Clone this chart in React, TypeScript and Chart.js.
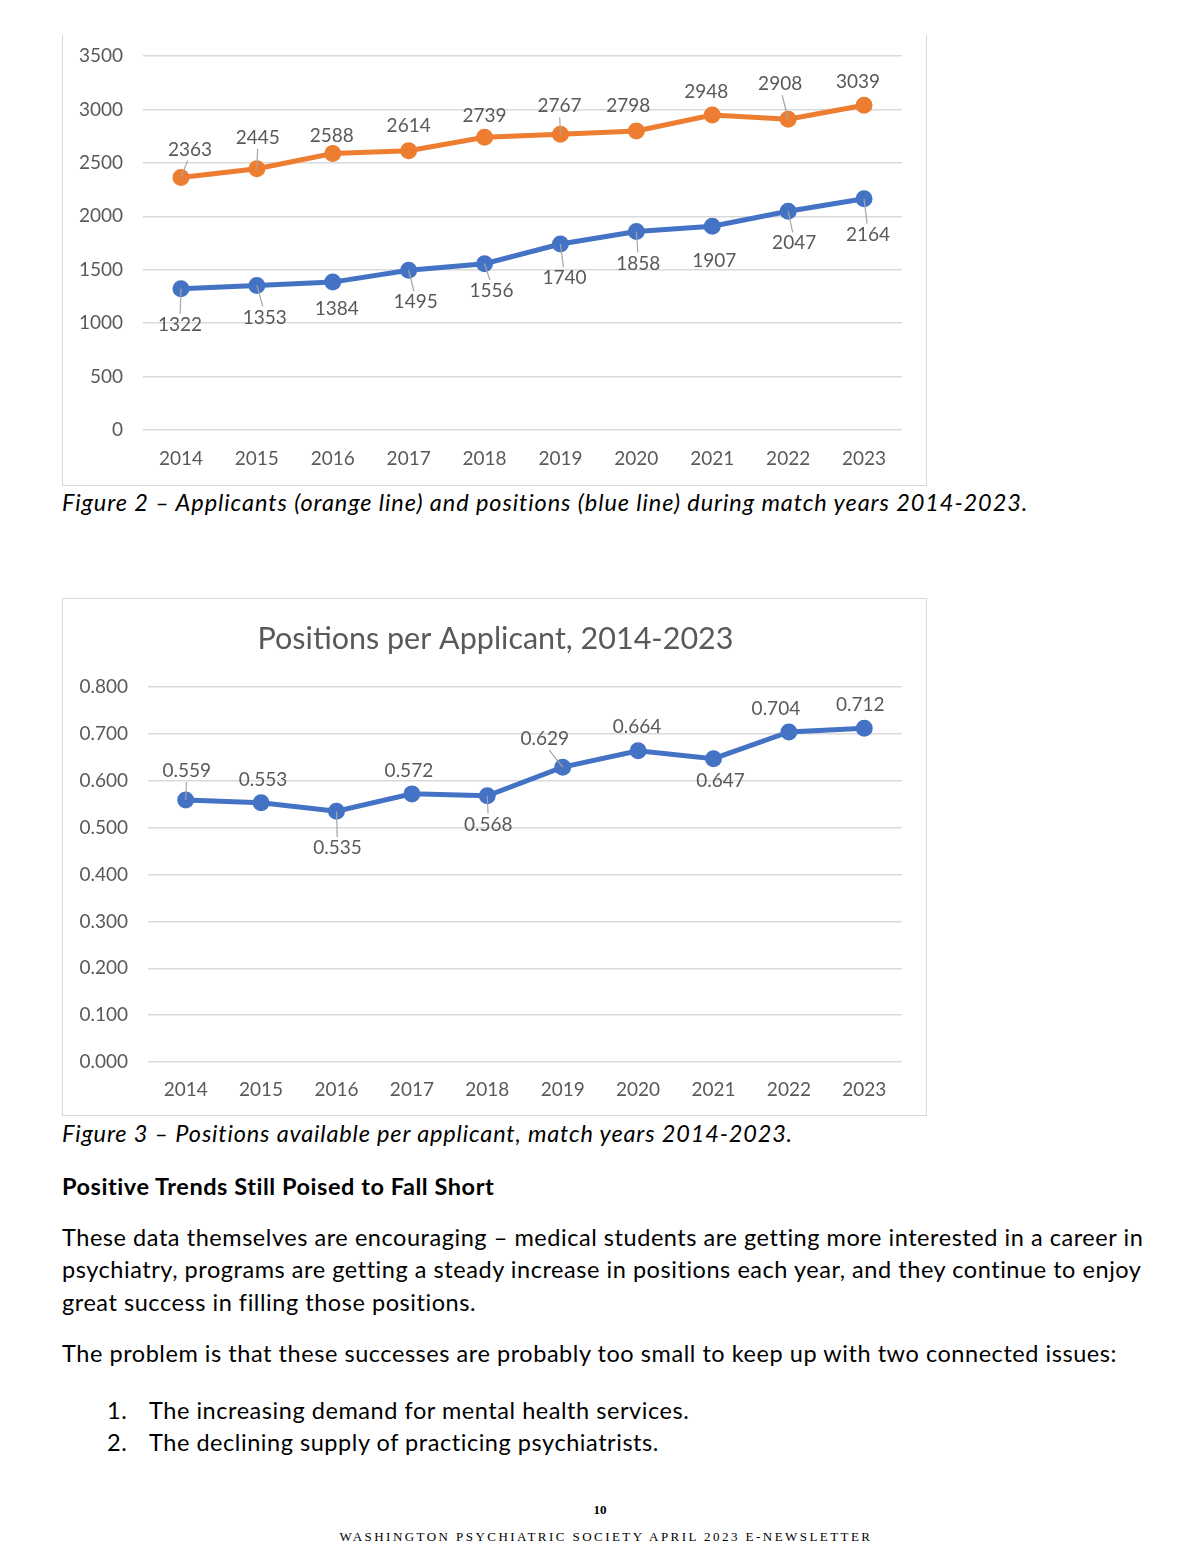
import React, { useEffect, useRef } from "react";
import { Chart, registerables } from "chart.js";

Chart.register(...registerables);

// ---------- data ----------
const years = ["2014", "2015", "2016", "2017", "2018", "2019", "2020", "2021", "2022", "2023"];
const applicants = [2363, 2445, 2588, 2614, 2739, 2767, 2798, 2948, 2908, 3039];
const positions = [1322, 1353, 1384, 1495, 1556, 1740, 1858, 1907, 2047, 2164];
const positionsPerApplicant = [0.559, 0.553, 0.535, 0.572, 0.568, 0.629, 0.664, 0.647, 0.704, 0.712];

// label placement relative to each point: [dx, dy, leader line]
const applicantLabelOffsets: [number, number, boolean][] = [
  [9, -28, true], [1, -31, true], [-1, -18, false], [0, -25, false], [0, -21, false],
  [-1, -28, true], [-8, -25, false], [-6, -23, false], [-8, -35, true], [-6, -23, false],
];
const positionLabelOffsets: [number, number, boolean][] = [
  [-1, 36, true], [8, 32, true], [4, 27, false], [7, 32, true], [7, 27, true],
  [4, 34, true], [2, 32, true], [2, 35, false], [6, 32, true], [4, 36, true],
];
const ratioLabelOffsets: [number, number, boolean][] = [
  [1, -29, true], [2, -23, false], [1, 37, true], [-3, -23, false], [1, 29, true],
  [-18, -28, true], [-1, -24, false], [7, 22, false], [-13, -23, false], [-4, -23, false],
];

const ORANGE = "#ED7D31";
const BLUE = "#4472C4";
const GRID = "#D9D9D9";
const TEXT_GRAY = "#595959";
const FONT = "Lato";

const pointLabelPlugin = {
  id: "pointLabels",
  afterDatasetsDraw(chart: any) {
    const ctx = chart.ctx;
    ctx.save();
    chart.data.datasets.forEach((ds: any, di: number) => {
      const meta = chart.getDatasetMeta(di);
      const offs = ds.labelOffsets as [number, number, boolean][];
      const fmt = ds.labelFormat as (v: number) => string;
      meta.data.forEach((pt: any, i: number) => {
        const [dx, dy, leader] = offs[i];
        const lx = pt.x + dx;
        const ly = pt.y + dy;
        if (leader) {
          const s = Math.sign(dy);
          ctx.beginPath();
          ctx.strokeStyle = "#A6A6A6";
          ctx.lineWidth = 1.2;
          ctx.moveTo(pt.x, pt.y);
          ctx.lineTo(pt.x + dx * 0.75, ly - s * 11);
          ctx.stroke();
        }
        ctx.font = `19px ${FONT}`;
        ctx.fillStyle = TEXT_GRAY;
        ctx.textAlign = "center";
        ctx.textBaseline = "middle";
        ctx.fillText(fmt(ds.data[i]), lx, ly);
      });
    });
    ctx.restore();
  },
};

// chart title centred on the whole canvas (like the Office chart title)
const centeredTitlePlugin = {
  id: "centeredTitle",
  afterDraw(chart: any, _args: any, opts: any) {
    if (!opts || !opts.text) return;
    const ctx = chart.ctx;
    ctx.save();
    ctx.font = `${opts.size}px ${FONT}`;
    ctx.fillStyle = opts.color;
    ctx.textAlign = "center";
    ctx.textBaseline = "middle";
    ctx.fillText(opts.text, chart.width / 2, opts.y);
    ctx.restore();
  },
};

function ApplicantsChart() {
  const ref = useRef<HTMLCanvasElement>(null);
  useEffect(() => {
    const chart = new Chart(ref.current!, {
      type: "line",
      data: {
        labels: years,
        datasets: [
          {
            label: "Applicants",
            data: applicants,
            borderColor: ORANGE,
            backgroundColor: ORANGE,
            borderWidth: 5,
            pointRadius: 6,
            pointHoverRadius: 6,
            tension: 0,
            labelOffsets: applicantLabelOffsets,
            labelFormat: (v: number) => String(v),
          } as any,
          {
            label: "Positions",
            data: positions,
            borderColor: BLUE,
            backgroundColor: BLUE,
            borderWidth: 5,
            pointRadius: 6,
            pointHoverRadius: 6,
            tension: 0,
            labelOffsets: positionLabelOffsets,
            labelFormat: (v: number) => String(v),
          } as any,
        ],
      },
      options: {
        responsive: false,
        animation: false,
        layout: { padding: { top: 21, right: 26, left: 0, bottom: 0 } },
        plugins: { legend: { display: false }, tooltip: { enabled: false }, title: { display: false } },
        scales: {
          x: {
            offset: true,
            grid: { display: false, drawTicks: false },
            border: { display: false },
            ticks: { color: TEXT_GRAY, font: { family: FONT, size: 19 }, padding: 17, maxRotation: 0 },
            afterFit: (s: any) => { s.height = 56; },
          },
          y: {
            min: 0,
            max: 3500,
            grid: { color: GRID, lineWidth: 1.5, drawTicks: false },
            border: { display: false },
            ticks: {
              stepSize: 500,
              color: TEXT_GRAY,
              font: { family: FONT, size: 19 },
              padding: 20,
              callback: (v: any) => String(v),
            },
            afterFit: (s: any) => {
              s.width = 80;
              s.paddingTop = 0;
              s.paddingBottom = 0;
            },
          },
        },
      },
      plugins: [pointLabelPlugin],
    });
    return () => chart.destroy();
  }, []);
  return <canvas ref={ref} width={865} height={451} style={{ position: "absolute", left: 0, top: 0 }} />;
}

function RatioChart() {
  const ref = useRef<HTMLCanvasElement>(null);
  useEffect(() => {
    const chart = new Chart(ref.current!, {
      type: "line",
      data: {
        labels: years,
        datasets: [
          {
            label: "Positions per Applicant",
            data: positionsPerApplicant,
            borderColor: BLUE,
            backgroundColor: BLUE,
            borderWidth: 5,
            pointRadius: 6,
            pointHoverRadius: 6,
            tension: 0,
            labelOffsets: ratioLabelOffsets,
            labelFormat: (v: number) => v.toFixed(3),
          } as any,
        ],
      },
      options: {
        responsive: false,
        animation: false,
        layout: { padding: { top: 88, right: 26, left: 0, bottom: 0 } },
        plugins: {
          legend: { display: false },
          tooltip: { enabled: false },
          title: { display: false },
          centeredTitle: {
            text: "Positions per Applicant, 2014-2023",
            color: TEXT_GRAY,
            size: 30.5,
            y: 40,
          },
        } as any,
        scales: {
          x: {
            offset: true,
            grid: { display: false, drawTicks: false },
            border: { display: false },
            ticks: { color: TEXT_GRAY, font: { family: FONT, size: 19 }, padding: 16, maxRotation: 0 },
            afterFit: (s: any) => { s.height = 55; },
          },
          y: {
            min: 0,
            max: 0.8,
            grid: { color: GRID, lineWidth: 1.5, drawTicks: false },
            border: { display: false },
            ticks: {
              stepSize: 0.1,
              color: TEXT_GRAY,
              font: { family: FONT, size: 19 },
              padding: 20,
              callback: (v: any) => Number(v).toFixed(3),
            },
            afterFit: (s: any) => {
              s.width = 85;
              s.paddingTop = 0;
              s.paddingBottom = 0;
            },
          },
        },
      },
      plugins: [pointLabelPlugin, centeredTitlePlugin],
    });
    return () => chart.destroy();
  }, []);
  return <canvas ref={ref} width={865} height={518} style={{ position: "absolute", left: 0, top: 0 }} />;
}

const BODY_SIZE = 23.5;

function Line(props: { x: number; cy: number; children: any; style?: any }) {
  return (
    <div
      style={{
        position: "absolute",
        left: props.x,
        top: props.cy - 15,
        height: 30,
        lineHeight: "30px",
        fontSize: BODY_SIZE,
        letterSpacing: "0.55px",
        whiteSpace: "nowrap",
        color: "#000",
        ...props.style,
      }}
    >
      {props.children}
    </div>
  );
}

export default function App() {
  return (
    <div
      style={{
        position: "absolute",
        left: 0,
        top: 0,
        width: 1200,
        height: 1553,
        background: "#fff",
        fontFamily: `${FONT}, sans-serif`,
        overflow: "hidden",
      }}
    >
      <div
        style={{
          position: "absolute",
          left: 62,
          top: 35,
          width: 865,
          height: 451,
          boxSizing: "border-box",
          borderLeft: `1.5px solid ${GRID}`,
          borderRight: `1.5px solid ${GRID}`,
          borderBottom: `1.5px solid ${GRID}`,
        }}
      >
        <ApplicantsChart />
      </div>
      <Line x={62} cy={502} style={{ fontStyle: "italic", letterSpacing: "0.92px" }}>
        Figure 2 – Applicants (orange line) and positions (blue line) during match years 2014-2023.
      </Line>

      <div
        style={{
          position: "absolute",
          left: 62,
          top: 598,
          width: 865,
          height: 518,
          boxSizing: "border-box",
          border: `1.5px solid ${GRID}`,
        }}
      >
        <RatioChart />
      </div>
      <Line x={62} cy={1133} style={{ fontStyle: "italic", letterSpacing: "0.84px" }}>
        Figure 3 – Positions available per applicant, match years 2014-2023.
      </Line>

      <Line x={62} cy={1186} style={{ fontWeight: "bold" }}>
        Positive Trends Still Poised to Fall Short
      </Line>

      <Line x={62} cy={1237}>
        These data themselves are encouraging – medical students are getting more interested in a career in
      </Line>
      <Line x={62} cy={1269}>
        psychiatry, programs are getting a steady increase in positions each year, and they continue to enjoy
      </Line>
      <Line x={62} cy={1302}>
        great success in filling those positions.
      </Line>

      <Line x={62} cy={1353}>
        The problem is that these successes are probably too small to keep up with two connected issues:
      </Line>

      <Line x={107} cy={1410}>1.</Line>
      <Line x={149} cy={1410}>The increasing demand for mental health services.</Line>
      <Line x={107} cy={1442}>2.</Line>
      <Line x={149} cy={1442}>The declining supply of practicing psychiatrists.</Line>

      <div
        style={{
          position: "absolute",
          left: 0,
          width: 1200,
          top: 1501,
          textAlign: "center",
          fontFamily: "'Liberation Serif', serif",
          fontWeight: "bold",
          fontSize: 13,
          lineHeight: "18px",
          color: "#000",
        }}
      >
        10
      </div>
      <div
        style={{
          position: "absolute",
          left: 6,
          width: 1200,
          top: 1528,
          textAlign: "center",
          fontFamily: "'Liberation Serif', serif",
          fontSize: 13,
          letterSpacing: "2.45px",
          lineHeight: "18px",
          color: "#000",
        }}
      >
        WASHINGTON PSYCHIATRIC SOCIETY APRIL 2023 E-NEWSLETTER
      </div>
    </div>
  );
}
